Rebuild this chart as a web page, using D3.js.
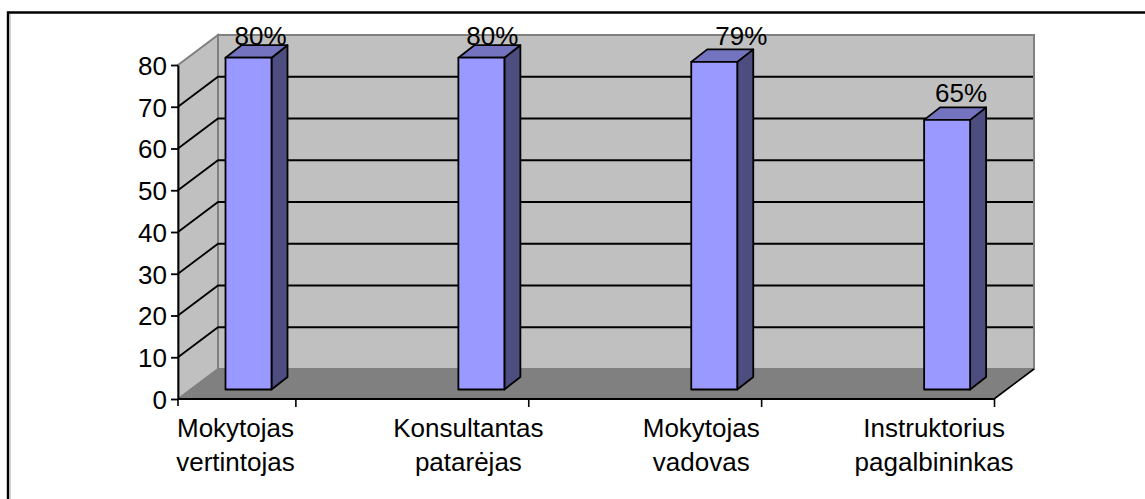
<!DOCTYPE html>
<html><head><meta charset="utf-8">
<script src="https://cdn.jsdelivr.net/npm/d3@7/dist/d3.min.js"></script>
<style>html,body{margin:0;padding:0;background:#fff}svg{display:block}text{font-family:"Liberation Sans",Arial,sans-serif;font-size:26px;fill:#000}</style>
</head><body><svg id="c" width="1145" height="499"></svg>
<script>
const categories = [["Mokytojas","vertintojas"],["Konsultantas","patarėjas"],["Mokytojas","vadovas"],["Instruktorius","pagalbininkas"]];
const values = [80, 80, 79, 65];
const valueLabels = ["80%", "80%", "79%", "65%"];
const yTicks = [0,10,20,30,40,50,60,70,80];
const labelShiftX = [12, 11, 27, 14];
const labelShiftY = [0, 0, -4, -5];

const W = 1145, H = 499;
const depthX = 40, depthY = -30;
const names = categories.map(c => c.join(" "));
const svg = d3.select("#c");

// chart frame, open at right and bottom
svg.append("path").attr("d", `M8 ${H}V12.5H${W}`).attr("fill","none").attr("stroke","#000").attr("stroke-width",2.4);
svg.append("line").attr("x1",10).attr("x2",10).attr("y1",14).attr("y2",H).attr("stroke","#aaa").attr("stroke-width",1);

const x = d3.scaleBand(names, [62.5, 994]);
const y = d3.scaleLinear([0, 80], [399, 65]);
const yBar = d3.scaleLinear([0, 80], [389.5, 57.7]);
const x0 = 178, x1 = 994;

// walls and floor
const poly = p => "M" + p.map(q => q.join(" ")).join("L") + "Z";
svg.append("path").attr("d", poly([[x0+depthX,y(80)+depthY],[x1+depthX,y(80)+depthY],[x1+depthX,y(0)+depthY],[x0+depthX,y(0)+depthY]]))
  .attr("fill","#c0c0c0").attr("stroke","#808080").attr("stroke-width",2);
svg.append("path").attr("d", poly([[x0,y(80)],[x0+depthX,y(80)+depthY],[x0+depthX,y(0)+depthY],[x0,y(0)]]))
  .attr("fill","#c0c0c0").attr("stroke","#808080").attr("stroke-width",2);
svg.append("path").attr("d", poly([[x0,y(0)],[x0+depthX,y(0)+depthY],[x1+depthX,y(0)+depthY],[x1,y(0)]]))
  .attr("fill","#808080");
svg.append("line").attr("x1",x1).attr("y1",y(0)).attr("x2",x1+depthX).attr("y2",y(0)+depthY).attr("stroke","#000").attr("stroke-width",1.6);

// gridlines
const inner = yTicks.filter(t => t > 0 && t < 80);
svg.append("g").selectAll("path").data(inner).join("path")
  .attr("d", t => `M${x0} ${y(t)}L${x0+depthX} ${y(t)+depthY}H${x1+depthX-1}`)
  .attr("fill","none").attr("stroke","#000").attr("stroke-width",1.8);

// bars
const barW = 46, bx = 16, by = -12.5, barOff = 163;
const bars = svg.append("g").selectAll("g").data(values).join("g")
  .attr("stroke","#000").attr("stroke-width",1.8).attr("stroke-linejoin","round");
const left = (d,i) => x(names[i]) + barOff;
bars.append("path").attr("fill","#4d4d80").attr("d",(d,i)=>{const l=left(d,i)+barW,t=yBar(d),b=yBar(0);
  return poly([[l,t],[l+bx,t+by],[l+bx,b+by],[l,b]]);});
bars.append("path").attr("fill","#7373bf").attr("d",(d,i)=>{const l=left(d,i),t=yBar(d);
  return poly([[l,t],[l+bx,t+by],[l+barW+bx,t+by],[l+barW,t]]);});
bars.append("rect").attr("fill","#9999ff").attr("x",left).attr("y",d=>yBar(d)).attr("width",barW).attr("height",d=>yBar(0)-yBar(d));

// value labels
svg.append("g").selectAll("text").data(values).join("text")
  .attr("text-anchor","middle")
  .attr("x",(d,i)=>left(d,i)+barW/2+labelShiftX[i])
  .attr("y",(d,i)=>yBar(d)+by-0.5+labelShiftY[i])
  .text((d,i)=>valueLabels[i]);

// y axis
const ya = svg.append("g").attr("transform",`translate(${x0},0)`)
  .call(d3.axisLeft(y).tickValues(yTicks).tickSize(7).tickSizeOuter(0).tickPadding(4));
ya.selectAll("path,line").attr("stroke","#000").attr("stroke-width",1.8);
ya.selectAll("text").style("font-size","26px").style("font-family","'Liberation Sans'").attr("dy","0.36em");

// x axis
const edge = d3.scaleOrdinal(names, names.map(n => x(n) + x.bandwidth()));
const xa = svg.append("g").attr("transform",`translate(0,${y(0)})`)
  .call(d3.axisBottom(edge).tickSize(8).tickSizeOuter(0).tickFormat(""));
xa.select(".domain").remove();
xa.selectAll("line").attr("stroke","#000").attr("stroke-width",1.6);
svg.append("line").attr("x1",x0).attr("x2",x1).attr("y1",y(0)).attr("y2",y(0)).attr("stroke","#000").attr("stroke-width",2.2);
svg.append("line").attr("x1",x0).attr("x2",x0).attr("y1",y(0)).attr("y2",y(0)+7).attr("stroke","#000").attr("stroke-width",1.6);

// category labels
const cat = svg.append("g").selectAll("text").data(categories).join("text")
  .attr("text-anchor","middle");
cat.selectAll("tspan").data((d,i)=>d.map((s,j)=>({s,j,i}))).join("tspan")
  .attr("x",d=>x(names[d.i])+173)
  .attr("y",d=>436.5+d.j*34.5)
  .text(d=>d.s);
</script></body></html>
